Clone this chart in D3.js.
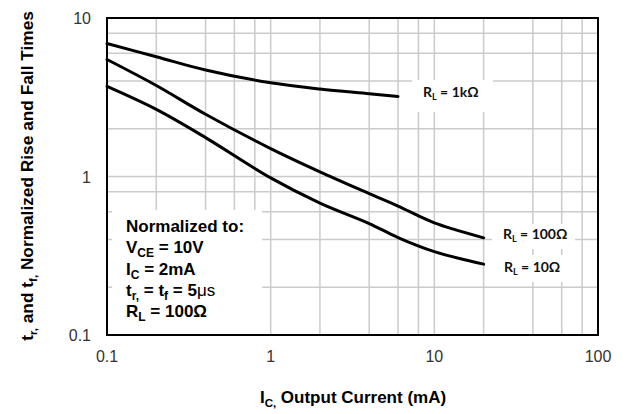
<!DOCTYPE html>
<html>
<head>
<meta charset="utf-8">
<script src="https://cdn.jsdelivr.net/npm/d3@7"></script>
<style>
  body { margin: 0; background: #fff; }
  svg { display: block; }
</style>
</head>
<body>
<div id="chart"></div>
<script>
// values
var current = [0.1, 0.2, 0.4, 1, 2, 4, 6, 10, 20];
var current1k = [0.1, 0.2, 0.4, 1, 2, 4, 6];
var rl1k = [6.9, 5.7, 4.7, 3.9, 3.56, 3.33, 3.2];
var rl100 = [5.47, 3.75, 2.47, 1.5, 1.07, 0.78, 0.65, 0.51, 0.41];
var rl10 = [3.7, 2.65, 1.76, 0.98, 0.68, 0.505, 0.412, 0.336, 0.28];
var xTicks = [0.1, 1, 10, 100];
var yTicks = [0.1, 1, 10];
var gridMinor = [2, 4, 6, 8];

var width = 629, height = 414;
var pl = 107, pr = 598, pt = 18, pb = 335;

var svg = d3.select("#chart").append("svg")
    .attr("width", width)
    .attr("height", height);

var x = d3.scaleLog().domain([0.1, 100]).range([pl, pr]);
var y = d3.scaleLog().domain([0.1, 10]).range([pb, pt]);

// grid values: 2,4,6,8 in each decade
var xGrid = [], yGrid = [];
[0.1, 1, 10].forEach(function (d) {
  gridMinor.forEach(function (m) { xGrid.push(d * m); });
  xGrid.push(d * 10);
});
[0.1, 1].forEach(function (d) {
  gridMinor.forEach(function (m) { yGrid.push(d * m); });
  yGrid.push(d * 10);
});

var grid = svg.append("g").attr("stroke", "#cbcbcb").attr("stroke-width", 1.5);
grid.selectAll(".vx").data(xGrid).enter().append("line")
    .attr("x1", function (d) { return x(d); })
    .attr("x2", function (d) { return x(d); })
    .attr("y1", pt).attr("y2", pb);
grid.selectAll(".hy").data(yGrid).enter().append("line")
    .attr("y1", function (d) { return y(d); })
    .attr("y2", function (d) { return y(d); })
    .attr("x1", pl).attr("x2", pr);

// white boxes behind labels
var boxes = [
  [112, 210, 150, 125],
  [412, 80, 81, 32],
  [492, 224, 83, 25],
  [492, 255, 83, 27]
];
svg.append("g").selectAll("rect").data(boxes).enter().append("rect")
    .attr("x", function (d) { return d[0]; })
    .attr("y", function (d) { return d[1]; })
    .attr("width", function (d) { return d[2]; })
    .attr("height", function (d) { return d[3]; })
    .attr("fill", "#fff");

// curves
var line = d3.line()
    .x(function (d) { return x(d[0]); })
    .y(function (d) { return y(d[1]); })
    .curve(d3.curveCatmullRom.alpha(0.5));

var series = [
  d3.zip(current1k, rl1k),
  d3.zip(current, rl100),
  d3.zip(current, rl10)
];
svg.append("g").selectAll("path").data(series).enter().append("path")
    .attr("d", line)
    .attr("fill", "none")
    .attr("stroke", "#000")
    .attr("stroke-width", 3)
    .attr("stroke-linecap", "round");

// frame
svg.append("rect")
    .attr("x", pl).attr("y", pt)
    .attr("width", pr - pl).attr("height", pb - pt)
    .attr("fill", "none").attr("stroke", "#000").attr("stroke-width", 2);

var font = "'Liberation Sans', Arial, sans-serif";

// tick labels
svg.append("g").selectAll("text").data(xTicks).enter().append("text")
    .attr("x", function (d) { return x(d); })
    .attr("y", 362)
    .attr("text-anchor", "middle")
    .style("font-family", font)
    .style("font-size", "16px")
    .style("fill", "#333")
    .text(function (d) { return d; });

svg.append("g").selectAll("text").data(yTicks).enter().append("text")
    .attr("x", 91)
    .attr("y", function (d) { return y(d) + 6; })
    .attr("text-anchor", "end")
    .style("font-family", font)
    .style("font-size", "16px")
    .style("fill", "#333")
    .text(function (d) { return d; });

// text with subscripts: parts = [[text, kind]], kind 1 = subscript, 2 = normal weight
function richText(g, parts, subSize, shift) {
  var offset = 0;
  parts.forEach(function (p) {
    var s = g.append("tspan").text(p[0]);
    if (p[1] === 1) {
      s.attr("dy", shift - offset).style("font-size", subSize);
      offset = shift;
    } else {
      if (offset) s.attr("dy", -offset);
      offset = 0;
      if (p[1] === 2) s.style("font-weight", "normal");
    }
  });
}

var xt = svg.append("text")
    .attr("x", 353).attr("y", 403)
    .attr("text-anchor", "middle")
    .style("font-family", font).style("font-weight", "bold").style("font-size", "17px");
richText(xt, [["I", 0], ["C,", 1], [" Output Current (mA)", 0]], "11.5px", 4);

var yt = svg.append("text")
    .attr("transform", "translate(33,176) rotate(-90)")
    .attr("text-anchor", "middle")
    .style("font-family", font).style("font-weight", "bold").style("font-size", "17.3px");
richText(yt, [["t", 0], ["r,", 1], [" and t", 0], ["f,", 1], [" Normalized Rise and Fall Times", 0]], "11.5px", 4);

// normalization note
var note = [
  [["Normalized to:", 0]],
  [["V", 0], ["CE", 1], [" = 10V", 0]],
  [["I", 0], ["C", 1], [" = 2mA", 0]],
  [["t", 0], ["r,", 1], [" = t", 0], ["f", 1], [" = 5", 0], ["\u03bcs", 2]],
  [["R", 0], ["L", 1], [" = 100\u03a9", 0]]
];
note.forEach(function (parts, i) {
  var t = svg.append("text")
      .attr("x", 126).attr("y", 232 + i * 21.3)
      .style("font-family", font).style("font-weight", "bold").style("font-size", "17px");
  richText(t, parts, "12px", 4);
});

// curve labels
var labels = [
  [423, 97, "1k\u03a9"],
  [503, 239, "100\u03a9"],
  [504, 272, "10\u03a9"]
];
labels.forEach(function (l) {
  var t = svg.append("text")
      .attr("x", l[0]).attr("y", l[1])
      .style("font-family", "Lato, 'Open Sans', sans-serif")
      .style("font-weight", "bold").style("font-size", "14px").style("fill", "#111");
  richText(t, [["R", 0], ["L", 1], [" = " + l[2], 0]], "9px", 3);
});
</script>
</body>
</html>
